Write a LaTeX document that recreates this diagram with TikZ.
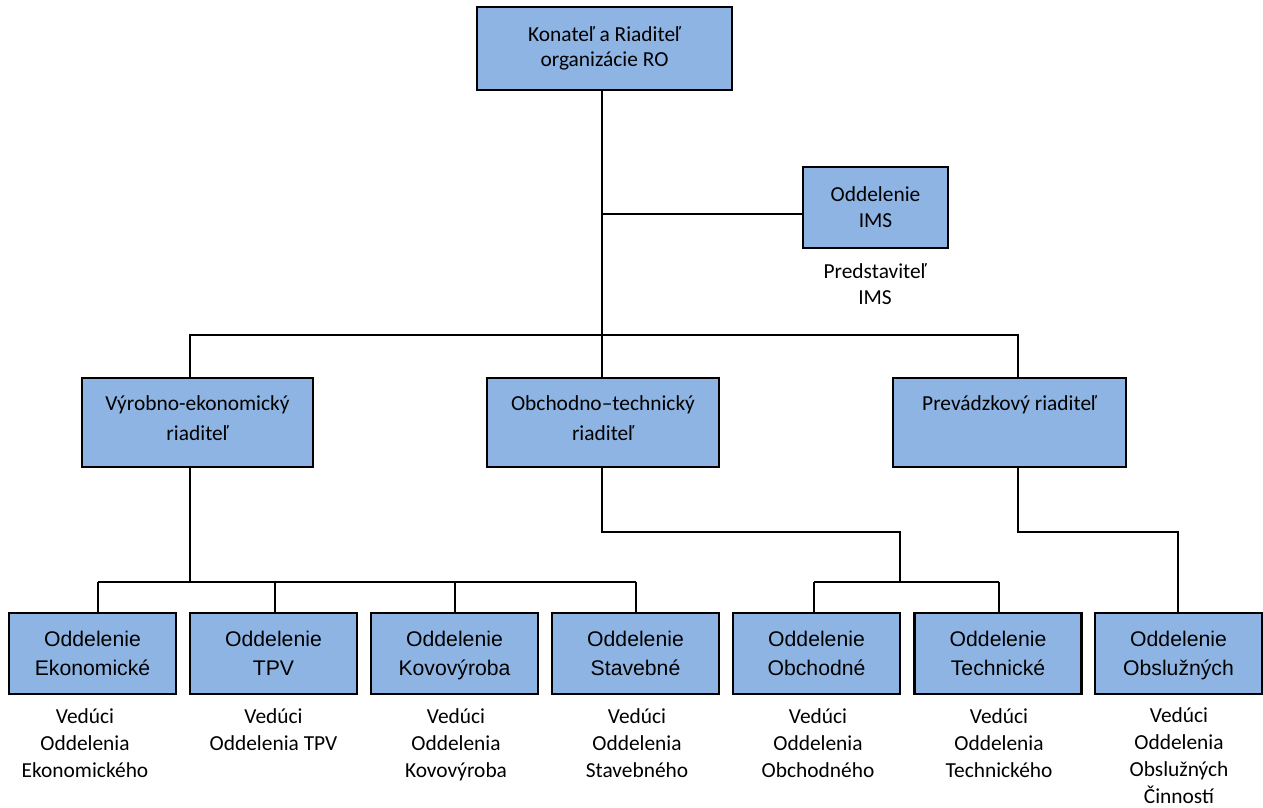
\documentclass[tikz,border=0pt]{standalone}
\usepackage{fontspec}
\setmainfont{Carlito}
\newfontfamily\arialf{Liberation Sans}
\definecolor{boxblue}{RGB}{142,180,227}
\tikzset{
  orgbox/.style={draw=black, line width=2.2pt, fill=boxblue, align=center, inner sep=0pt,
    font=\fontsize{21.4}{30}\selectfont},
  topbox/.style={orgbox, font=\fontsize{21.4}{25}\selectfont},
  imsbox/.style={orgbox, font=\fontsize{21.4}{26}\selectfont},
  deptbox/.style={orgbox, minimum width=167pt, minimum height=81pt, text depth=0pt,
    font=\arialf\fontsize{21.2}{29}\selectfont},
  headlabel/.style={align=center, inner sep=0pt, anchor=base,
    font=\fontsize{21.4}{27}\selectfont},
  conn/.style={draw=black, line width=2pt}
}
\begin{document}
\begin{tikzpicture}[x=1pt,y=-1pt]
\useasboundingbox (0,0) rectangle (1263,807);
\fill[white] (0,0) rectangle (1263,807);

% boxes
\node[topbox, minimum width=255pt, minimum height=83pt] (top) at (604.5,48.5) {Konateľ a Riaditeľ\\organizácie RO};
\node[imsbox, minimum width=145pt, minimum height=81pt] (ims) at (875.5,207.5) {Oddelenie\\IMS};
\node[align=center, inner sep=0pt, anchor=base, font=\fontsize{21.4}{26}\selectfont] (imsl) at (875,304.5) {Predstaviteľ\\IMS};

\node[orgbox, minimum width=231pt, minimum height=89pt] (vyr) at (197.5,422.5) {Výrobno-ekonomický\\riaditeľ\strut};
\node[orgbox, minimum width=232pt, minimum height=89pt] (obc) at (603,422.5) {Obchodno–technický\\riaditeľ\strut};
\node[orgbox, minimum width=233pt, minimum height=89pt] (pre) at (1009.5,422.5) {Prevádzkový riaditeľ\\\strut};

\node[deptbox] (b1) at (92.5,653.5) {Oddelenie\\Ekonomické};
\node[deptbox] (b2) at (273.5,653.5) {Oddelenie\\TPV};
\node[deptbox] (b3) at (454.5,653.5) {Oddelenie\\Kovovýroba};
\node[deptbox] (b4) at (635.5,653.5) {Oddelenie\\Stavebné};
\node[deptbox] (b5) at (816.5,653.5) {Oddelenie\\Obchodné};
\node[deptbox] (b6) at (998,653.5) {Oddelenie\\Technické};
\node[deptbox] (b7) at (1178.5,653.5) {Oddelenie\\Obslužných};

% labels below departments (anchor base = last line)
\node[headlabel] (l1) at (85,777) {Vedúci\\Oddelenia\\Ekonomického};
\node[headlabel] (l2) at (273.5,750) {Vedúci\\Oddelenia TPV};
\node[headlabel] (l3) at (456,777) {Vedúci\\Oddelenia\\Kovovýroba};
\node[headlabel] (l4) at (637,777) {Vedúci\\Oddelenia\\Stavebného};
\node[headlabel] (l5) at (818,777) {Vedúci\\Oddelenia\\Obchodného};
\node[headlabel] (l6) at (999,777) {Vedúci\\Oddelenia\\Technického};
\node[headlabel] (l7) at (1179,803) {Vedúci\\Oddelenia\\Obslužných\\Činností};

% junction coordinates
\coordinate (cT) at (602,335);
\coordinate (cIMS) at (602,214);
\coordinate (cL) at (190,335);
\coordinate (cR) at (1018,335);
\coordinate (cV) at (190,582);
\coordinate (h1) at (98,582);
\coordinate (h2) at (275,582);
\coordinate (h3) at (455,582);
\coordinate (h4) at (636,582);
\coordinate (o1) at (602,532);
\coordinate (o2) at (900,532);
\coordinate (h5) at (814,582);
\coordinate (h6) at (999,582);
\coordinate (p1) at (1018,532);
\coordinate (p2) at (1178,532);

% connectors
\draw[conn] (top.south -| cT) -- (obc.north -| cT);
\draw[conn] (cIMS) -- (ims.west |- cIMS);
\draw[conn] (vyr.north -| cL) -- (cL) -- (cR) -- (pre.north -| cR);

\draw[conn] (vyr.south -| cV) -- (cV);
\draw[conn] (h1) -- (h4);
\draw[conn] (h1) -- (b1.north -| h1);
\draw[conn] (h2) -- (b2.north -| h2);
\draw[conn] (h3) -- (b3.north -| h3);
\draw[conn] (h4) -- (b4.north -| h4);

\draw[conn] (obc.south -| o1) -- (o1) -- (o2) -- (o2 |- h5);
\draw[conn] (h5) -- (h6);
\draw[conn] (h5) -- (b5.north -| h5);
\draw[conn] (h6) -- (b6.north -| h6);

\draw[conn] (pre.south -| p1) -- (p1) -- (p2) -- (b7.north -| p2);
\end{tikzpicture}
\end{document}
